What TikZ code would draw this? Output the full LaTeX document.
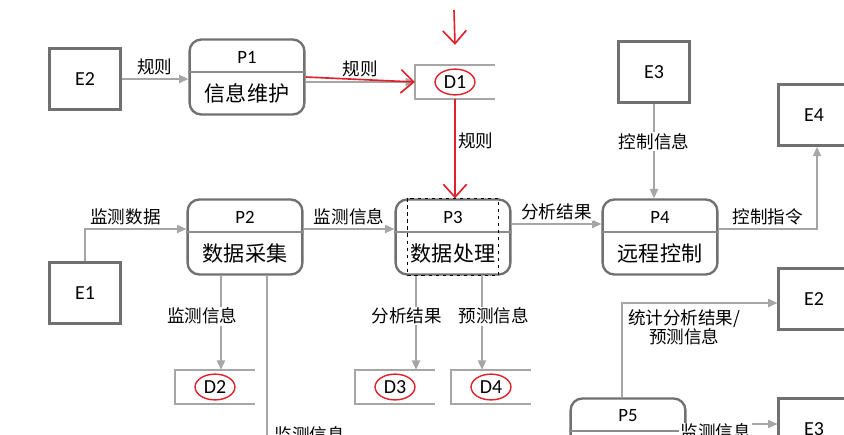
\documentclass[tikz,border=0pt]{standalone}
\usepackage{fontspec}
\setmainfont{Carlito}
\newfontfamily\cjk{Noto Sans CJK SC}
\usepackage{tikz}
\usetikzlibrary{positioning}
\usetikzlibrary{shapes,calc,arrows.meta}
\definecolor{boxgray}{HTML}{707070}
\definecolor{splitgray}{HTML}{8C8C8C}
\definecolor{linegray}{HTML}{A6A6A6}
\definecolor{penred}{HTML}{E0202A}
\tikzset{
	flow/.style = {draw=linegray, line width=1.2pt, -{Triangle[length=8pt,width=7pt]}},
	plain/.style = {draw=linegray, line width=1.2pt},
	ext/.style = {rectangle, draw=boxgray, line width=2.4pt, minimum width=60pt, minimum height=52pt, font=\fontsize{17}{19}\selectfont},
	procbox/.style = {rectangle, rounded corners=10pt, draw=boxgray, line width=2pt, minimum width=98pt, minimum height=64pt},
	pid/.style = {font=\fontsize{16}{18}\selectfont},
	ptxt/.style = {font=\cjk\fontsize{18}{20}\selectfont},
	storebox/.style = {rectangle, minimum width=68pt, minimum height=29pt},
	storeline/.style = {draw=linegray, line width=1.3pt},
	lbl/.style = {font=\cjk\fontsize{15}{16}\selectfont, inner sep=1pt, fill=white},
	dlab/.style = {ellipse, draw=penred, line width=1.2pt, inner sep=0pt, minimum width=34pt, minimum height=22pt, font=\fontsize{17}{19}\selectfont},
	redpen/.style = {draw=penred, line width=1.4pt, -{Straight Barb[length=11pt,width=20pt]}},
}
\newcommand\dfdproc[4]{%
	\node[procbox] (#1) at (#2) {};
	\draw[draw=splitgray, line width=1pt] ($(#1.west)+(0,-5)$) -- ($(#1.east)+(0,-5)$);
	\node[pid] (#1id) at ($(#1.center)+(0,-20)$) {#3};
	\node[ptxt] (#1txt) at ($(#1.center)+(0,16)$) {#4};
}
\newcommand\dfdstore[3]{%
	\node[storebox] (#1) at (#2) {};
	\draw[storeline] (#1.north east) -- (#1.north west) -- (#1.south west) -- (#1.south east);
	\node[dlab] (#1lab) at (#1.center) {#3};
}

\begin{document}
\begin{tikzpicture}[x=0.03cm, y=-0.03cm]
	\useasboundingbox (0,0) rectangle (844,434);
	\clip (0,0) rectangle (844,434);
	\node[ext] (E2a) at (85,79) {E2};
	\node[ext] (E1) at (85,293) {E1};
	\node[ext] (E3a) at (654,72) {E3};
	\node[ext] (E4) at (814,115) {E4};
	\node[ext] (E2b) at (814,299) {E2};
	\node[ext] (E3b) at (814,429) {E3};
	\dfdproc{P1}{247,77}{P1}{信息维护}
	\dfdproc{P2}{245,237}{P2}{数据采集}
	\dfdproc{P3}{453,237}{P3}{数据处理}
	\dfdproc{P4}{660,237}{P4}{远程控制}
	\dfdproc{P5}{628,436}{P5}{}
	\dfdstore{D1}{455,82}{D1}
	\dfdstore{D2}{215,387}{D2}
	\dfdstore{D3}{395,387}{D3}
	\dfdstore{D4}{491,387}{D4}
	\draw[dashed, line width=0.6pt] ($(P3.north west)+(13,0)$) rectangle ($(P3.south east)+(-13,0)$);

	\draw[flow] (E2a.east) -- (E2a.east -| P1.west) node[lbl, midway, above=2pt] {规则};
	\draw[flow] (P1.east |- D1.west) -- (D1.west) node[lbl, midway, above=3pt, fill=none] {规则};
	\draw[redpen] (P1.east) -- (D1.west);
	\coordinate (mark) at (454,10);
	\draw[redpen] (mark) -- ($(D1.north)+(0,-20)$);
	\draw[redpen] (D1.south) -- (D1.south |- P3.north) node[lbl, pos=0.42, right=1pt, fill=none] {规则};

	\draw[flow] (E1.north) |- ($(P2.west)+(0,-8)$) node[lbl, pos=0.7, above=2pt] {监测数据};
	\draw[flow] ($(P2.east)+(0,-8)$) -- ($(P3.west)+(0,-8)$) node[lbl, midway, above=2pt] {监测信息};
	\draw[flow] ($(P3.east)+(0,-13)$) -- ($(P4.west)+(0,-13)$) node[lbl, midway, above=2pt] {分析结果};
	\draw[flow] (E3a.south) -- (E3a.south |- P4.north) node[lbl, pos=0.4] {控制信息};
	\draw[flow] ($(P4.east)+(0,-8)$) -| ($(E4.south)+(3,0)$) node[lbl, pos=0.25, above=2pt] {控制指令};

	\coordinate (P2d) at ($(P2.south)+(-24,0)$);
	\draw[flow] (P2d) -- (P2d |- D2.north) node[lbl, pos=0.43, xshift=-16pt] {监测信息};
	\coordinate (P2e) at ($(P2.south)+(22,0)$);
	\coordinate (cut) at (267,470);
	\draw[plain] (P2e) -- (cut) node[lbl, pos=0.82, right=5pt, fill=none] {监测信息};

	\coordinate (P3a) at ($(P3.south)+(-37,0)$);
	\draw[flow] (P3a) -- (P3a |- D3.north) node[lbl, pos=0.43, xshift=-8pt] {分析结果};
	\coordinate (P3b) at ($(P3.south)+(29,0)$);
	\draw[flow] (P3b) -- (P3b |- D4.north) node[lbl, pos=0.43, xshift=10pt] {预测信息};

	\coordinate (P5u) at ($(P5.north)+(-6,0)$);
	\draw[flow] (P5u) |- ($(E2b.west)+(0,4)$) node[lbl, pos=0.7, below=4pt, align=center, fill=none] {统计分析结果/\\预测信息};
	\coordinate (E3in) at ($(E3b.west)+(0,-5)$);
	\draw[flow] (P5.east |- E3in) -- (E3in) node[lbl, midway, xshift=-14pt, yshift=-7pt] {监测信息};
\end{tikzpicture}
\end{document}
